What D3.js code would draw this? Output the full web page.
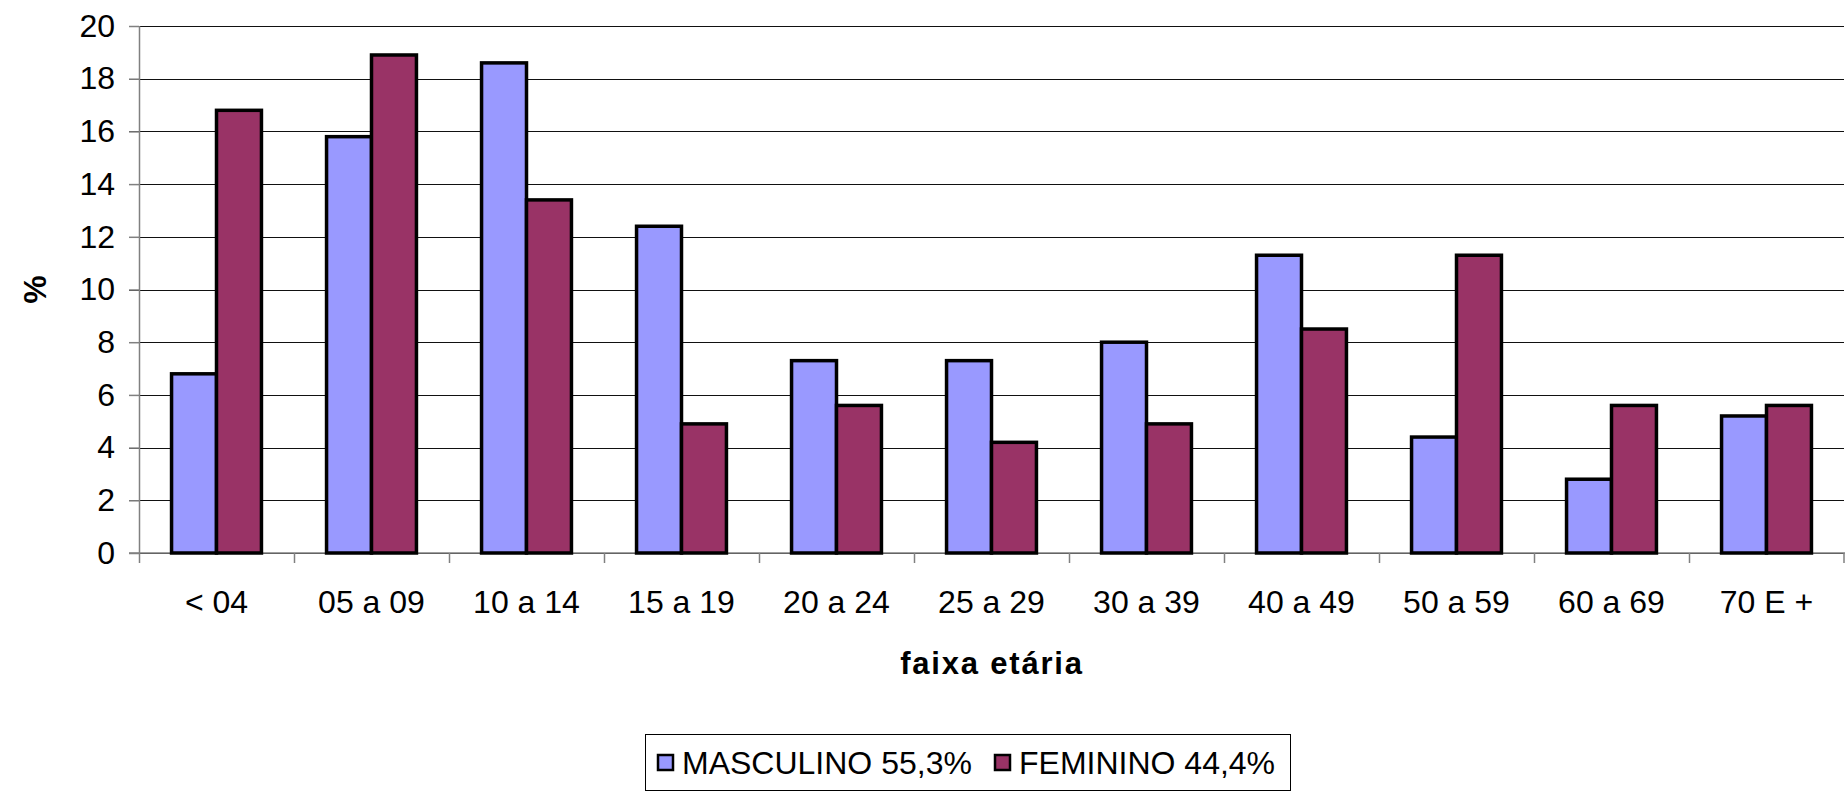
<!DOCTYPE html>
<html>
<head>
<meta charset="utf-8">
<script src="https://cdn.jsdelivr.net/npm/d3@7"></script>
<style>
    body { margin: 0; background: #fff; }
    svg { display: block; font-family: "Liberation Sans", Arial, sans-serif; }
    .grid line { stroke: #111; stroke-width: 1px; }
    .axis path, .axis line { stroke: #808080; stroke-width: 1.5px; }
    .tickLabel { font-size: 32px; fill: #000; }
    .bar { stroke: #000; stroke-width: 3.5px; }
</style>
</head>
<body>
<div id="chart"></div>
<script>
// Age groups (faixa etária)
var categories = ["< 04", "05 a 09", "10 a 14", "15 a 19", "20 a 24", "25 a 29",
    "30 a 39", "40 a 49", "50 a 59", "60 a 69", "70 E +"];

// Series names and values (%)
var seriesNames = ["MASCULINO 55,3%", "FEMININO 44,4%"];
var masculino = [6.8, 15.8, 18.6, 12.4, 7.3, 7.3, 8.0, 11.3, 4.4, 2.8, 5.2];
var feminino = [16.8, 18.9, 13.4, 4.9, 5.6, 4.2, 4.9, 8.5, 11.3, 5.6, 5.6];
var yTicks = [0, 2, 4, 6, 8, 10, 12, 14, 16, 18, 20];

var colors = ["#9999FF", "#993366"];

var width = 1845;
var height = 791;
var margin = { left: 139, right: 1, top: 26, bottom: 238 };

var svg = d3.select("#chart")
    .append("svg")
    .attr("width", width)
    .attr("height", height);

var x0 = d3.scaleBand()
    .domain(categories)
    .range([margin.left, width - margin.right])
    .paddingInner(0.42)
    .paddingOuter(0.21);

var x1 = d3.scaleBand()
    .domain([0, 1])
    .range([0, x0.bandwidth()]);

var y = d3.scaleLinear()
    .domain([0, 20])
    .range([height - margin.bottom, margin.top]);

// Horizontal gridlines
svg.append("g")
    .attr("class", "grid")
    .selectAll("line")
    .data(yTicks)
    .enter()
    .append("line")
    .attr("x1", margin.left - 10)
    .attr("x2", width - margin.right)
    .attr("y1", function(d) { return Math.round(y(d)) + 0.5; })
    .attr("y2", function(d) { return Math.round(y(d)) + 0.5; });

// Y axis (labels only, lines drawn as grid)
var yAxis = svg.append("g")
    .attr("class", "axis")
    .attr("transform", "translate(" + margin.left + ",0)")
    .call(d3.axisLeft(y).tickValues(yTicks).tickSize(10).tickPadding(14));
yAxis.select(".domain").attr("d", "M0.5," + y(20) + "V" + y(0));
yAxis.selectAll("text").attr("class", "tickLabel").attr("font-family", null).attr("font-size", null);

// X axis: ticks at category boundaries
var step = x0.step();
var boundaries = d3.range(categories.length + 1).map(function(i) {
    return margin.left + i * step;
});

svg.append("g")
    .attr("class", "axis")
    .selectAll("line")
    .data(boundaries)
    .enter()
    .append("line")
    .attr("x1", function(d) { return Math.min(Math.round(d) + 0.5, width - 1); })
    .attr("x2", function(d) { return Math.min(Math.round(d) + 0.5, width - 1); })
    .attr("y1", y(0))
    .attr("y2", y(0) + 10);

svg.append("line")
    .attr("x1", margin.left - 10)
    .attr("x2", width)
    .attr("y1", y(0))
    .attr("y2", y(0))
    .attr("stroke", "#808080")
    .attr("stroke-width", 1.5);

svg.append("g")
    .selectAll("text")
    .data(categories)
    .enter()
    .append("text")
    .attr("class", "tickLabel")
    .attr("x", function(d) { return x0(d) + x0.bandwidth() / 2; })
    .attr("y", y(0) + 60)
    .attr("text-anchor", "middle")
    .text(function(d) { return d; });

// Bars
var rows = categories.map(function(c, i) {
    return { cat: c, values: [masculino[i], feminino[i]] };
});

var groups = svg.append("g")
    .selectAll("g")
    .data(rows)
    .enter()
    .append("g")
    .attr("transform", function(d) { return "translate(" + x0(d.cat) + ",0)"; });

groups.selectAll("rect")
    .data(function(d) {
        return d.values.map(function(v, k) { return { k: k, v: v }; });
    })
    .enter()
    .append("rect")
    .attr("class", "bar")
    .attr("x", function(d) { return x1(d.k); })
    .attr("width", x1.bandwidth())
    .attr("y", function(d) { return y(d.v); })
    .attr("height", function(d) { return y(0) - y(d.v); })
    .attr("fill", function(d) { return colors[d.k]; });

// Axis titles
svg.append("text")
    .attr("x", (margin.left + width) / 2)
    .attr("y", 674)
    .attr("text-anchor", "middle")
    .attr("font-size", "31px")
    .attr("font-weight", "bold")
    .attr("letter-spacing", "1.8px")
    .text("faixa etária");

svg.append("text")
    .attr("transform", "translate(46," + ((y(0) + y(20)) / 2) + ") rotate(-90)")
    .attr("text-anchor", "middle")
    .attr("font-size", "32px")
    .attr("font-weight", "bold")
    .text("%");

// Legend
var legend = svg.append("g")
    .attr("transform", "translate(645,734)");

legend.append("rect")
    .attr("x", 0.5)
    .attr("y", 0.5)
    .attr("width", 645)
    .attr("height", 56)
    .attr("fill", "#fff")
    .attr("stroke", "#000")
    .attr("stroke-width", 1);

var legendX = [13, 350];

seriesNames.forEach(function(name, k) {
    legend.append("rect")
        .attr("x", legendX[k])
        .attr("y", 21)
        .attr("width", 15)
        .attr("height", 15)
        .attr("fill", colors[k])
        .attr("stroke", "#000")
        .attr("stroke-width", 2.5);

    legend.append("text")
        .attr("x", legendX[k] + 24)
        .attr("y", 40)
        .attr("font-size", "32px")
        .text(name);
});
</script>
</body>
</html>
